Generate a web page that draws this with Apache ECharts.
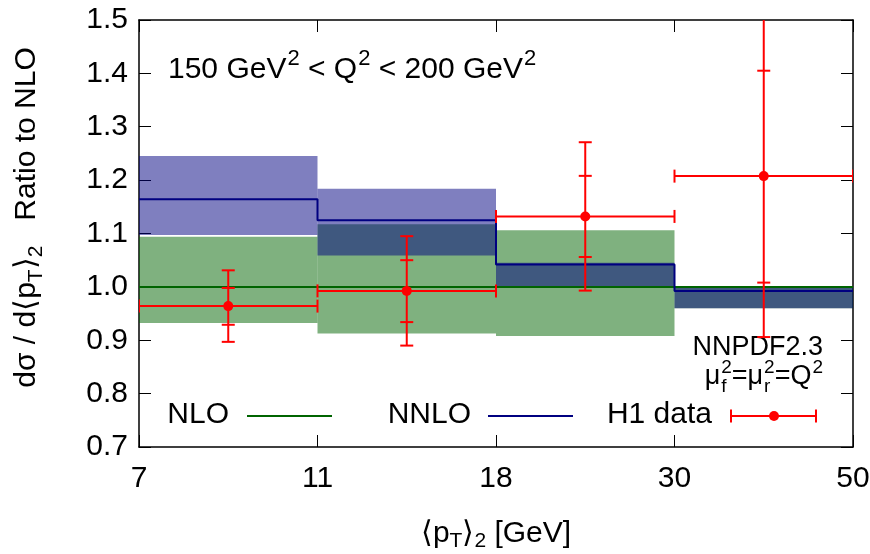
<!DOCTYPE html>
<html>
<head>
<meta charset="utf-8">
<script src="https://cdn.jsdelivr.net/npm/echarts@6/dist/echarts.min.js"></script>
<style>
html, body { margin: 0; padding: 0; background: #fff; }
#chart { width: 870px; height: 554px; }
</style>
</head>
<body>
<div id="chart"></div>
<script>
// bin edges (equally spaced on the plot)
const xTicks = ['7', '11', '18', '30', '50'];

// NLO (ratio is 1 by definition) and its scale band
const nloLine = [1.0, 1.0, 1.0, 1.0];
const nloLo = [0.9325, 0.9125, 0.908, 0.96];
const nloHi = [1.094, 1.1175, 1.106, 1.0];

// NNLO and its scale band
const nnloLine = [1.164, 1.125, 1.042, 0.9925];
const nnloLo = [1.097, 1.059, 1.0, 0.96];
const nnloHi = [1.245, 1.184, 1.045, 1.0];

// H1 data: value, stat (inner) and total (outer) errors
const h1Val = [0.964, 0.9925, 1.132, 1.2075];
const h1StatLo = [0.929, 0.934, 1.056, 1.008];
const h1StatHi = [0.998, 1.05, 1.208, 1.405];
const h1TotLo = [0.897, 0.89, 0.993, 0.906];
const h1TotHi = [1.031, 1.095, 1.271, 1.53];

const FONT = '"Liberation Sans", Arial, Helvetica, sans-serif';
const GREEN = '#006400';
const NAVY = '#000080';
const RED = '#ff0000';

const chart = echarts.init(document.getElementById('chart'));

// text with super/subscripts, built from pieces
const ctx = document.createElement('canvas').getContext('2d');
function textWidth(s, size) {
	ctx.font = size + 'px ' + FONT;
	return ctx.measureText(s).width;
}
function txt(s, x, y, size) {
	return {
		type: 'text', x: x, y: y,
		style: { text: s, font: size + 'px ' + FONT, fill: '#000', align: 'left', verticalAlign: 'middle', textAlign: 'left', textVerticalAlign: 'middle' }
	};
}
function scriptText(pieces, x, y, size, align) {
	const small = Math.round(size * 0.72);
	let cx = 0;
	const kids = [];
	pieces.forEach(function (p) {
		if (p.n) {
			kids.push(txt(p.n, cx, 0, size));
			cx += textWidth(p.n, size);
		} else {
			let w = 0;
			if (p.sup) {
				kids.push(txt(p.sup, cx + 1, -size * 0.36, small));
				w = textWidth(p.sup, small) + 1;
			}
			if (p.sub) {
				kids.push(txt(p.sub, cx + 1, size * 0.36, small));
				w = Math.max(w, textWidth(p.sub, small) + 1);
			}
			cx += w;
		}
	});
	return { type: 'group', x: align === 'right' ? x - cx : x, y: y, children: kids, silent: true };
}

function binData(lo, hi) {
	return lo.map(function (v, i) { return [i, v, hi[i]]; });
}
function bandRender(color) {
	return function (params, api) {
		const p0 = api.coord([api.value(0), api.value(2)]);
		const p1 = api.coord([api.value(0) + 1, api.value(1)]);
		return {
			type: 'rect',
			shape: { x: p0[0], y: p0[1], width: p1[0] - p0[0], height: p1[1] - p0[1] },
			style: { fill: color }
		};
	};
}

function stepData(vals) {
	const d = vals.map(function (v, i) { return [i, v]; });
	d.push([vals.length, vals[vals.length - 1]]);
	return d;
}

const h1Data = h1Val.map(function (v, i) {
	return [i, v, h1StatLo[i], h1StatHi[i], h1TotLo[i], h1TotHi[i]];
});
function errRender(params, api) {
	const i = api.value(0);
	const c = api.coord([i + 0.5, api.value(1)]);
	const l = api.coord([i, api.value(1)]);
	const r = api.coord([i + 1, api.value(1)]);
	const yS0 = api.coord([i, api.value(2)])[1];
	const yS1 = api.coord([i, api.value(3)])[1];
	const yT0 = api.coord([i, api.value(4)])[1];
	const yT1 = api.coord([i, api.value(5)])[1];
	const cap = 6.5;
	const ls = { stroke: RED, lineWidth: 2 };
	const line = function (x1, y1, x2, y2) {
		return { type: 'line', shape: { x1: x1, y1: y1, x2: x2, y2: y2 }, style: ls };
	};
	return {
		type: 'group',
		children: [
			line(l[0], c[1], r[0], c[1]),
			line(l[0], c[1] - cap, l[0], c[1] + cap),
			line(r[0], c[1] - cap, r[0], c[1] + cap),
			line(c[0], yT0, c[0], yT1),
			line(c[0] - cap, yT0, c[0] + cap, yT0),
			line(c[0] - cap, yT1, c[0] + cap, yT1),
			line(c[0] - cap, yS0, c[0] + cap, yS0),
			line(c[0] - cap, yS1, c[0] + cap, yS1),
			{ type: 'circle', shape: { cx: c[0], cy: c[1], r: 5 }, style: { fill: RED } }
		]
	};
}

const axisCommon = {
	axisLine: { show: true, onZero: false, lineStyle: { color: '#000', width: 1.5 } },
	axisTick: { show: true, inside: true, length: 12, lineStyle: { color: '#000', width: 1 } },
	splitLine: { show: false }
};

const option = {
	animation: false,
	backgroundColor: '#fff',
	textStyle: { fontFamily: FONT },
	grid: { left: 139, right: 17, top: 20, bottom: 107, containLabel: false, outerBoundsMode: 'none' },
	xAxis: [
		Object.assign({
			type: 'value', min: 0, max: 4, interval: 1, position: 'bottom',
			axisLabel: {
				fontSize: 30, color: '#000', margin: 17,
				formatter: function (v) { return xTicks[v]; }
			},
			name: '{n|⟨p}{s|T}{n|⟩}{s|2}{n| [GeV]}',
			nameLocation: 'middle', nameGap: 69,
			nameTextStyle: {
				rich: {
					n: { fontSize: 30, color: '#000', lineHeight: 36, fontFamily: FONT },
					s: { fontSize: 21, color: '#000', lineHeight: 36, verticalAlign: 'bottom', fontFamily: FONT }
				}
			}
		}, axisCommon),
		Object.assign({
			type: 'value', min: 0, max: 4, interval: 1, position: 'top',
			axisLabel: { show: false }
		}, axisCommon)
	],
	yAxis: [
		Object.assign({
			type: 'value', min: 0.7, max: 1.5, interval: 0.1, position: 'left',
			axisLabel: {
				fontSize: 30, color: '#000', margin: 11,
				formatter: function (v) { return v.toFixed(1); }
			},
			name: '{g|}{n|dσ / d⟨p}{s|T}{n|⟩}{s|2}{n|   Ratio to NLO}',
			nameLocation: 'middle', nameGap: 92, nameRotate: 90,
			nameTextStyle: {
				rich: {
					g: { width: 32, lineHeight: 40 },
					n: { fontSize: 30, color: '#000', lineHeight: 40, fontFamily: FONT },
					s: { fontSize: 21, color: '#000', lineHeight: 40, verticalAlign: 'bottom', fontFamily: FONT }
				}
			}
		}, axisCommon),
		Object.assign({
			type: 'value', min: 0.7, max: 1.5, interval: 0.1, position: 'right',
			axisLabel: { show: false }
		}, axisCommon)
	],
	series: [
		{
			name: 'NLO band', type: 'custom', clip: true,
			renderItem: bandRender('rgba(0,100,0,0.5)'),
			data: binData(nloLo, nloHi), z: 1
		},
		{
			name: 'NNLO band', type: 'custom', clip: true,
			renderItem: bandRender('rgba(0,0,128,0.5)'),
			data: binData(nnloLo, nnloHi), z: 2
		},
		{
			name: 'NLO', type: 'line', step: 'end', showSymbol: false, z: 3,
			lineStyle: { color: GREEN, width: 2 },
			data: stepData(nloLine)
		},
		{
			name: 'NNLO', type: 'line', step: 'end', showSymbol: false, z: 4,
			lineStyle: { color: NAVY, width: 2 },
			data: stepData(nnloLine)
		},
		{
			name: 'H1 data', type: 'custom', clip: true, z: 5,
			renderItem: errRender,
			data: h1Data
		}
	],
	graphic: [
		scriptText([{ n: '150 GeV' }, { sup: '2' }, { n: ' < Q' }, { sup: '2' }, { n: ' < 200 GeV' }, { sup: '2' }], 168, 70, 30, 'left'),
		scriptText([{ n: 'NNPDF2.3' }], 823, 348, 27, 'right'),
		scriptText([{ n: 'μ' }, { sup: '2', sub: 'f' }, { n: '=μ' }, { sup: '2', sub: 'r' }, { n: '=Q' }, { sup: '2' }], 823, 377, 27, 'right'),
		// key
		scriptText([{ n: 'NLO' }], 229, 415, 30, 'right'),
		{ type: 'line', shape: { x1: 247, y1: 416, x2: 332, y2: 416 }, style: { stroke: GREEN, lineWidth: 2 } },
		scriptText([{ n: 'NNLO' }], 471, 415, 30, 'right'),
		{ type: 'line', shape: { x1: 488, y1: 416, x2: 573, y2: 416 }, style: { stroke: NAVY, lineWidth: 2 } },
		scriptText([{ n: 'H1 data' }], 712, 415, 30, 'right'),
		{
			type: 'group', children: [
				{ type: 'line', shape: { x1: 731, y1: 416, x2: 816, y2: 416 }, style: { stroke: RED, lineWidth: 2 } },
				{ type: 'line', shape: { x1: 731, y1: 409.5, x2: 731, y2: 422.5 }, style: { stroke: RED, lineWidth: 2 } },
				{ type: 'line', shape: { x1: 816, y1: 409.5, x2: 816, y2: 422.5 }, style: { stroke: RED, lineWidth: 2 } },
				{ type: 'circle', shape: { cx: 774, cy: 416, r: 5 }, style: { fill: RED } }
			]
		}
	]
};

chart.setOption(option);
</script>
</body>
</html>
